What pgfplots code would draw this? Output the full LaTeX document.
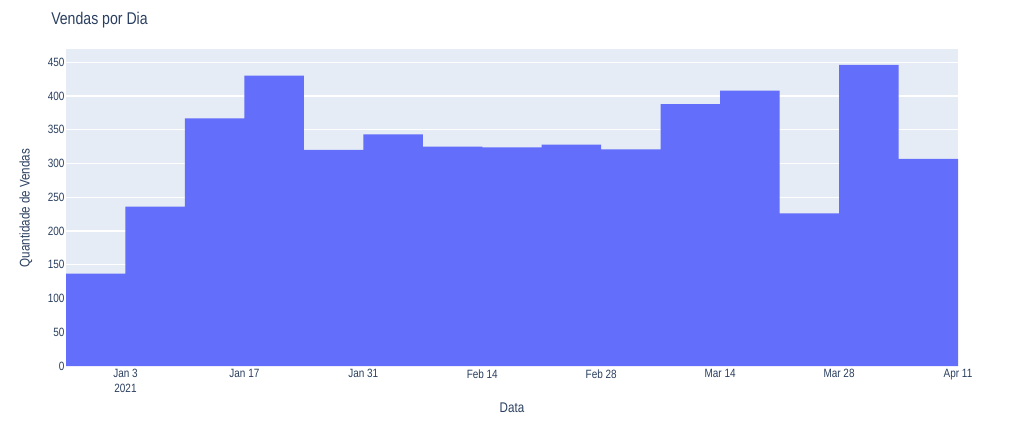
\documentclass[border=0pt]{standalone}
\usepackage{fontspec}
\setmainfont{Liberation Sans}[FakeStretch=0.83]
\usepackage{pgfplots}
\pgfplotsset{compat=1.18}
\definecolor{plotbg}{HTML}{E5ECF6}
\definecolor{barblue}{HTML}{636EFA}
\definecolor{txt}{HTML}{2A3F5F}
\begin{document}
\begin{tikzpicture}[x=0.75pt,y=0.75pt]
\path[use as bounding box] (0,0) rectangle (1024,433);
\begin{axis}[
  at={(49.5pt,50.25pt)}, anchor=south west,
  scale only axis, width=669pt, height=237.75pt,
  xmin=0, xmax=105, ymin=0, ymax=469.6,
  enlargelimits=false,
  axis background/.style={fill=plotbg},
  axis line style={draw=none},
  tick style={draw=none},
  ymajorgrids, grid style={white, line width=0.8pt},
  ytick={0,50,...,450},
  xtick={7,21,35,49,63,77,91,105},
  xticklabels={{Jan 3\\2021},Jan 17,Jan 31,Feb 14,Feb 28,Mar 14,Mar 28,Apr 11},
  xticklabel style={align=center, font=\fontsize{9}{11}\selectfont, text=txt, yshift=1pt},
  yticklabel style={font=\fontsize{9}{11}\selectfont, text=txt, inner sep=1pt},
  /pgf/number format/assume math mode=true,
]
\addplot[ybar interval, fill=barblue, draw=none]
  coordinates {(0,137) (7,236) (14,367) (21,430) (28,320) (35,343) (42,325) (49,324)
               (56,328) (63,321) (70,388) (77,408) (84,226) (91,446) (98,307) (105,307)};
\end{axis}
\node[anchor=west, inner sep=0pt, text=txt, font=\fontsize{12.75}{15}\selectfont] at (51,413) {Vendas por Dia};
\node[rotate=90, text=txt, font=\fontsize{10.5}{13}\selectfont] at (26,225) {Quantidade de Vendas};
\node[text=txt, font=\fontsize{10.5}{13}\selectfont] at (512,25) {Data};
\end{tikzpicture}
\end{document}
